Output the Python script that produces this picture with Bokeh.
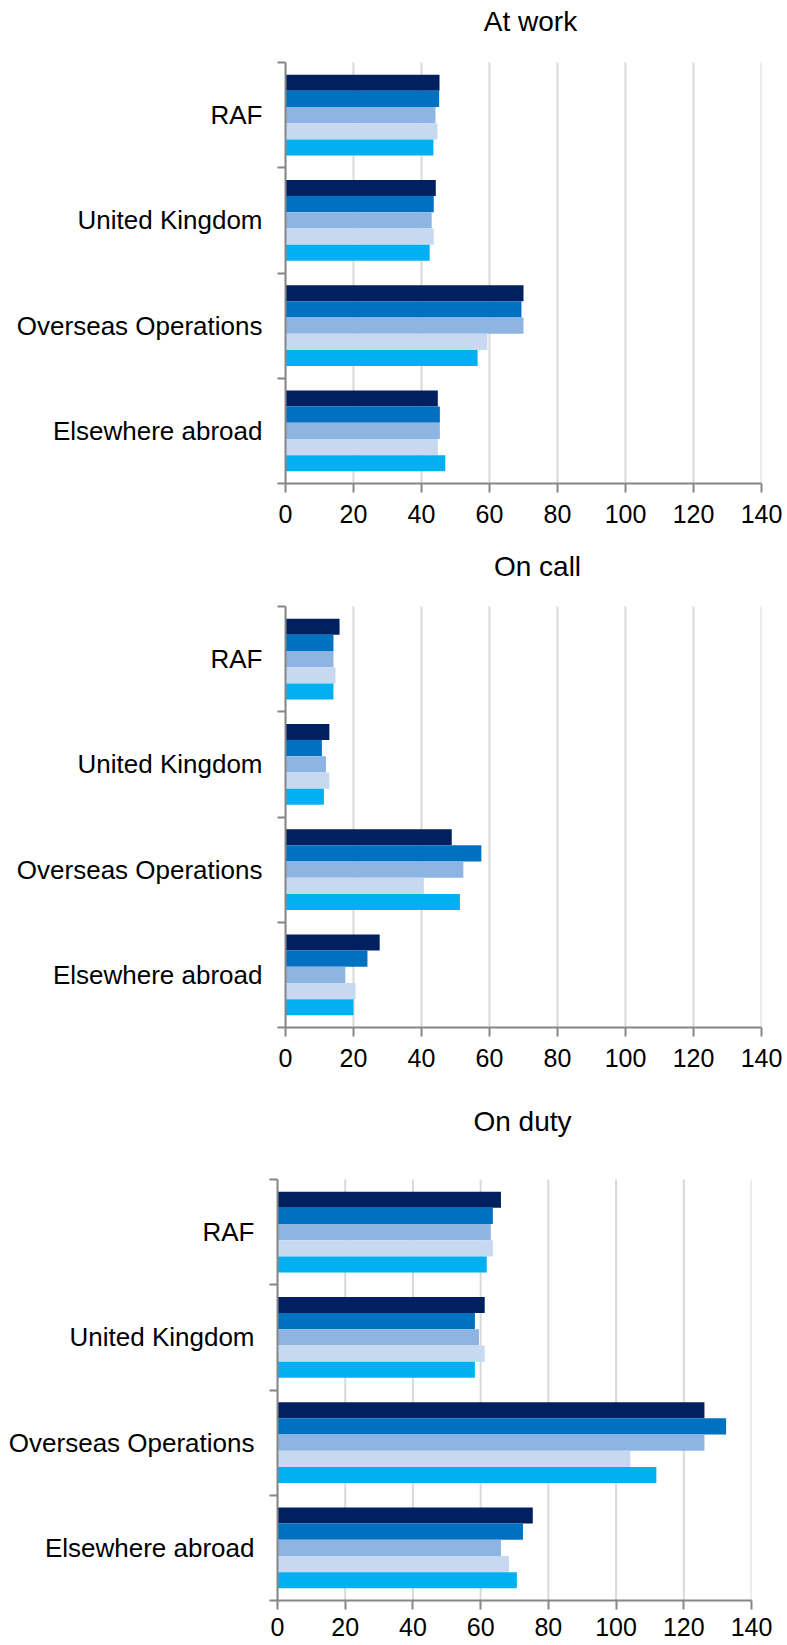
from bokeh.plotting import figure
from bokeh.models import Range1d, FixedTicker
from bokeh.core.properties import value
from bokeh.embed import file_html
from bokeh.resources import INLINE

# ---- data ----
categories = ["RAF", "United Kingdom", "Overseas Operations", "Elsewhere abroad"]
x_ticks = [0, 20, 40, 60, 80, 100, 120, 140]
series_colors = ["#002060", "#0070C0", "#8DB4E2", "#C6D9F1", "#00B0F0"]

# At work (series listed top bar to bottom bar within each group)
at_work_1 = [45.3, 44.2, 70.0, 44.8]
at_work_2 = [45.2, 43.6, 69.4, 45.4]
at_work_3 = [44.1, 43.0, 70.0, 45.4]
at_work_4 = [44.7, 43.6, 59.4, 44.8]
at_work_5 = [43.5, 42.4, 56.5, 47.0]

# On call
on_call_1 = [15.9, 12.9, 48.9, 27.7]
on_call_2 = [14.1, 10.7, 57.6, 24.1]
on_call_3 = [14.1, 11.9, 52.3, 17.6]
on_call_4 = [14.7, 12.9, 40.7, 20.6]
on_call_5 = [14.1, 11.3, 51.3, 20.0]

# On duty
on_duty_1 = [66.0, 61.2, 126.1, 75.4]
on_duty_2 = [63.6, 58.3, 132.5, 72.5]
on_duty_3 = [63.0, 59.5, 126.1, 66.0]
on_duty_4 = [63.6, 61.2, 104.2, 68.4]
on_duty_5 = [61.8, 58.3, 111.9, 70.7]

FONT = "Liberation Sans"
AXIS_COLOR = "#868686"
GRID_COLOR = "#D9D9D9"


def make_panel(title, series, left, frame_w, right, pad_top, plot_h, bottom,
               title_dx, title_dy, label_standoff):
    """pad_top: pixels above the bar area that hold the title."""
    n = len(categories)
    px_per_unit_y = plot_h / n
    y0 = -0.5
    y_top = n - 0.5
    y_end = y_top + pad_top / px_per_unit_y
    xmax = x_ticks[-1]
    p = figure(width=left + frame_w + right, height=pad_top + plot_h + bottom,
               output_backend="svg", toolbar_location=None,
               x_range=Range1d(0, xmax), y_range=Range1d(y0, y_end),
               min_border_left=left, min_border_right=right,
               min_border_top=0, min_border_bottom=bottom)
    p.outline_line_color = None
    p.background_fill_color = "white"
    p.border_fill_color = "white"
    p.xgrid.grid_line_color = None
    p.ygrid.grid_line_color = None

    # vertical gridlines limited to the bar area
    p.segment(x0=x_ticks, x1=x_ticks, y0=[y0] * len(x_ticks),
              y1=[y_top] * len(x_ticks), line_color=GRID_COLOR, line_width=2)

    bar_h = 1.0 / 6.5
    centers = [n - 1 - i for i in range(n)]
    for k, (vals, col) in enumerate(zip(series, series_colors)):
        ys = [c + (2 - k) * bar_h for c in centers]
        p.hbar(y=ys, left=0, right=vals, height=bar_h, fill_color=col,
               line_color=None)

    # title above the bar area
    px_per_unit_x = frame_w / xmax
    p.text(x=[xmax / 2 + title_dx / px_per_unit_x],
           y=[y_top + title_dy / px_per_unit_y], text=[title],
           text_font=value(FONT), text_font_size="28px", text_color="black",
           text_align="center", text_baseline="middle")

    # x axis
    xa = p.xaxis[0]
    xa.ticker = FixedTicker(ticks=x_ticks)
    xa.axis_line_color = AXIS_COLOR
    xa.axis_line_width = 2
    xa.major_tick_line_color = AXIS_COLOR
    xa.major_tick_line_width = 2
    xa.major_tick_out = 9
    xa.major_tick_in = 0
    xa.minor_tick_line_color = None
    xa.major_label_text_font = FONT
    xa.major_label_text_font_size = "25px"
    xa.major_label_text_color = "black"
    xa.major_label_standoff = label_standoff

    # y axis: labels at group centres, ticks at group boundaries
    ya = p.yaxis[0]
    ya.bounds = (y0, y_top)
    ya.ticker = FixedTicker(ticks=centers,
                            minor_ticks=[b - 0.5 for b in range(n + 1)])
    ya.major_label_overrides = {c: categories[i] for i, c in enumerate(centers)}
    ya.axis_line_color = AXIS_COLOR
    ya.axis_line_width = 2
    ya.major_tick_line_color = None
    ya.major_tick_out = 0
    ya.major_tick_in = 0
    ya.minor_tick_line_color = AXIS_COLOR
    ya.minor_tick_line_width = 2
    ya.minor_tick_out = 8
    ya.minor_tick_in = 0
    ya.major_label_text_font = FONT
    ya.major_label_text_font_size = "26px"
    ya.major_label_text_color = "black"
    ya.major_label_standoff = 15
    return p


p1 = make_panel("At work",
                [at_work_1, at_work_2, at_work_3, at_work_4, at_work_5],
                285, 476, 26, 62, 421, 61, 7, 41, 12)
p2 = make_panel("On call",
                [on_call_1, on_call_2, on_call_3, on_call_4, on_call_5],
                285, 476, 26, 62, 421, 63, 14, 39.6, 12)
p3 = make_panel("On duty",
                [on_duty_1, on_duty_2, on_duty_3, on_duty_4, on_duty_5],
                277, 474, 36, 89, 421, 45, 8, 57.8, 8)

open("out.html", "w").write(file_html([p1, p2, p3], INLINE))
